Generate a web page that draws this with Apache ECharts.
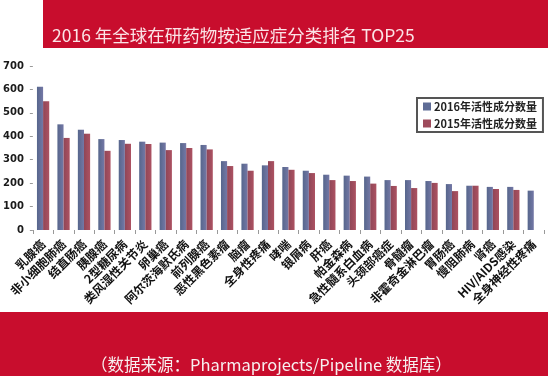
<!DOCTYPE html>
<html>
<head>
<meta charset="utf-8">
<script src="https://cdn.jsdelivr.net/npm/echarts@6/dist/echarts.min.js"></script>
<style>
  html, body { margin: 0; padding: 0; background: #fff; }
  #chart { width: 548px; height: 376px; }
</style>
</head>
<body>
<div id="chart"></div>
<script>
const categories = [
  "乳腺癌", "非小细胞肺癌", "结直肠癌", "胰腺癌", "2型糖尿病",
  "类风湿性关节炎", "卵巢癌", "阿尔茨海默氏病", "前列腺癌", "恶性黑色素瘤",
  "脑瘤", "全身性疼痛", "哮喘", "银屑病", "肝癌",
  "帕金森病", "急性髓系白血病", "头颈部癌症", "骨髓瘤", "非霍奇金淋巴瘤",
  "胃肠癌", "慢阻肺病", "肾癌", "HIV/AIDS感染", "全身神经性疼痛"
];
const values2016 = [611, 451, 428, 388, 384, 377, 373, 371, 363, 294, 283, 276, 269, 253, 236, 232, 228, 213, 213, 209, 196, 189, 184, 184, 168];
const values2015 = [550, 393, 411, 338, 368, 367, 341, 350, 344, 273, 253, 294, 257, 243, 213, 209, 198, 188, 179, 201, 166, 189, 175, 171, null];
const yTicks = { min: 0, max: 700, interval: 100 };

const chart = echarts.init(document.getElementById("chart"));

const blueFill = new echarts.graphic.LinearGradient(0, 0, 1, 0, [
  { offset: 0, color: "#56668c" },
  { offset: 1, color: "#7478a6" },
]);
const redFill = new echarts.graphic.LinearGradient(0, 0, 1, 0, [
  { offset: 0, color: "#8f4657" },
  { offset: 1, color: "#ad5262" },
]);

const option = {
  backgroundColor: "#fff",
  animation: false,
  graphic: {
    elements: [
      {
        type: "rect",
        left: 43,
        top: 0,
        shape: { width: 505, height: 48 },
        style: { fill: "#c80d2d" },
        z: 0,
      },
      {
        type: "text",
        left: 52,
        top: 27,
        style: {
          text: "2016 年全球在研药物按适应症分类排名 TOP25",
          font: '17.5px "Noto Sans CJK SC"',
          fill: "#fbe3e6",
        },
        z: 1,
      },
      {
        type: "rect",
        left: 0,
        top: 312,
        shape: { width: 548, height: 64 },
        style: { fill: "#c80d2d" },
        z: 0,
      },
      {
        type: "text",
        left: 91,
        top: 356,
        style: {
          text: "（数据来源：Pharmaprojects/Pipeline 数据库）",
          font: '16.5px "Noto Sans CJK SC"',
          fill: "#f7f0f0",
        },
        z: 1,
      },
    ],
  },
  legend: {
    orient: "vertical",
    left: 417,
    top: 98,
    width: 117,
    padding: [3, 6, 3, 6],
    itemGap: 6,
    itemWidth: 8,
    itemHeight: 8,
    icon: "rect",
    borderColor: "#555",
    borderWidth: 2,
    backgroundColor: "#fff",
    textStyle: {
      fontFamily: "Noto Sans CJK SC",
      fontWeight: "bold",
      fontSize: 11,
      color: "#222",
      padding: [0, 0, 0, -2],
    },
    data: [
      { name: "2016年活性成分数量", itemStyle: { color: "#5e6c96" } },
      { name: "2015年活性成分数量", itemStyle: { color: "#9e4a5b" } },
    ],
  },
  grid: {
    left: 27,
    right: 4,
    top: 66,
    bottom: 146,
  },
  xAxis: {
    type: "category",
    data: categories,
    axisLine: { show: false },
    axisTick: { show: true, length: 4, lineStyle: { color: "#999" } },
    axisLabel: {
      interval: 0,
      rotate: 45,
      margin: 12,
      fontFamily: "Noto Sans CJK SC",
      fontWeight: "bold",
      fontSize: 12,
      color: "#111",
    },
  },
  yAxis: {
    type: "value",
    min: yTicks.min,
    max: yTicks.max,
    interval: yTicks.interval,
    splitLine: { show: false },
    axisLine: { show: false },
    axisTick: { show: true, length: 3, lineStyle: { color: "#999" } },
    axisLabel: {
      margin: 9,
      fontFamily: "DejaVu Sans",
      fontWeight: "bold",
      fontSize: 10,
      color: "#1a1a1a",
    },
  },
  series: [
    {
      name: "2016年活性成分数量",
      type: "bar",
      data: values2016,
      barGap: "0%",
      barCategoryGap: "40%",
      itemStyle: { color: blueFill },
    },
    {
      name: "2015年活性成分数量",
      type: "bar",
      data: values2015,
      itemStyle: { color: redFill },
    },
  ],
};

chart.setOption(option);
</script>
</body>
</html>
